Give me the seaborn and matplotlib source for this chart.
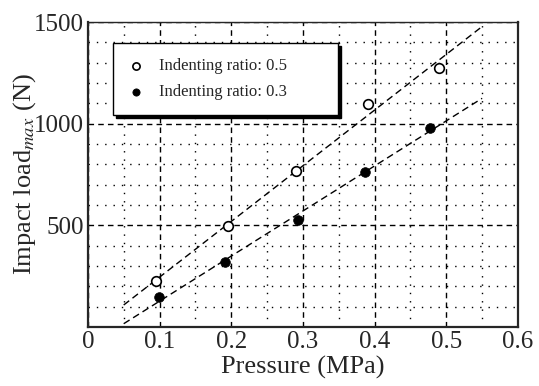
import numpy as np
import pandas as pd
import matplotlib.pyplot as plt
import seaborn as sns
from matplotlib.ticker import MultipleLocator

sns.set_style('ticks')
plt.rcParams['font.family'] = ['Liberation Serif', 'DejaVu Serif']
plt.rcParams['mathtext.fontset'] = 'stix'

# pressure (MPa) and max impact load (N)
press_05 = [0.095, 0.196, 0.291, 0.391, 0.490]
load_05 = [226, 497, 767, 1098, 1275]
press_03 = [0.099, 0.192, 0.293, 0.386, 0.477]
load_03 = [146, 321, 526, 761, 980]

df05 = pd.DataFrame({'p': press_05, 'F': load_05})
df03 = pd.DataFrame({'p': press_03, 'F': load_03})

# linear fits drawn from 0.05 to 0.55
xfit = np.array([0.05, 0.55])
fit05 = pd.DataFrame({'p': xfit, 'F': np.polyval(np.polyfit(press_05, load_05, 1), xfit)})
fit03 = pd.DataFrame({'p': xfit, 'F': np.polyval(np.polyfit(press_03, load_03, 1), xfit)})

fig, ax = plt.subplots(figsize=(5.39, 3.86), dpi=100)
fig.subplots_adjust(left=0.163, right=0.961, top=0.943, bottom=0.153)

sns.lineplot(data=fit05, x='p', y='F', ax=ax, color='k', lw=1.0,
             linestyle=(0, (5, 3)), zorder=3)
sns.lineplot(data=fit03, x='p', y='F', ax=ax, color='k', lw=1.0,
             linestyle=(0, (5, 3)), zorder=3)
sns.scatterplot(data=df05, x='p', y='F', ax=ax, marker='o', s=48,
                facecolor='white', edgecolor='k', linewidth=1.2, zorder=4,
                label='Indenting ratio: 0.5')
sns.scatterplot(data=df03, x='p', y='F', ax=ax, marker='o', s=48,
                color='k', edgecolor='k', zorder=4,
                label='Indenting ratio: 0.3')

ax.set_xlim(0, 0.6)
ax.set_ylim(0, 1500)
ax.set_xticks([0, 0.1, 0.2, 0.3, 0.4, 0.5, 0.6])
ax.set_xticklabels(['0', '0.1', '0.2', '0.3', '0.4', '0.5', '0.6'])
ax.set_yticks([500, 1000, 1500])
ax.xaxis.set_minor_locator(MultipleLocator(0.05))
ax.yaxis.set_minor_locator(MultipleLocator(100))
ax.grid(which='major', color='k', linestyle=(0, (4, 3)), lw=1.0)
ax.grid(which='minor', color='k', linestyle=(0, (1, 5)), lw=1.0)
ax.tick_params(which='both', length=0, labelsize=18, pad=3)

for s in ['left', 'bottom', 'right']:
    ax.spines[s].set_linewidth(1.6)
ax.spines['top'].set_linewidth(1.0)

ax.set_xlabel('Pressure (MPa)', fontsize=19, labelpad=2)
ax.set_ylabel('Impact load$_{max}$ (N)', fontsize=19, labelpad=-3)

leg = ax.legend(loc='upper left', bbox_to_anchor=(0.058, 0.69, 0.523, 0.24),
                mode='expand', frameon=True, fancybox=False, edgecolor='k',
                framealpha=1, fontsize=12, markerscale=0.75,
                borderpad=0.9, labelspacing=0.6, handlelength=1.0,
                handletextpad=0.9, borderaxespad=0,
                shadow={'color': 'k', 'alpha': 1})
leg.get_frame().set_linewidth(1.0)

fig.savefig('out.png', dpi=100)
